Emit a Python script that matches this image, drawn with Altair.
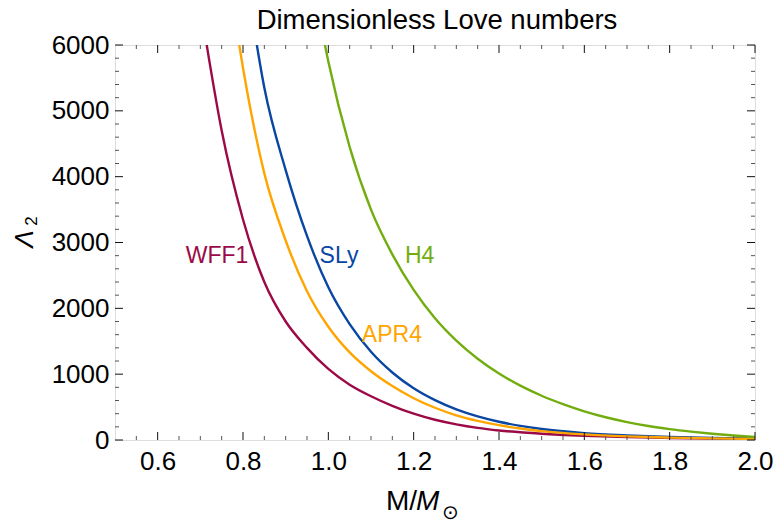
import altair as alt
import pandas as pd

# ---------------- data ----------------
wff1_m = [0.70, 0.72, 0.75, 0.80, 0.85, 0.90, 0.95, 1.00, 1.05, 1.10, 1.15, 1.20, 1.25, 1.30, 1.35, 1.40, 1.50, 1.60, 1.70, 1.80, 1.90, 2.00]
wff1_l = [6600, 5800, 4700, 3350, 2400, 1800, 1400, 1080, 840, 665, 520, 400, 308, 238, 184, 145, 95, 65, 45, 31, 22, 15]

sly_m = [0.82, 0.85, 0.90, 0.95, 1.00, 1.05, 1.10, 1.15, 1.20, 1.25, 1.30, 1.35, 1.40, 1.45, 1.50, 1.60, 1.70, 1.80, 1.90, 2.00]
sly_l = [6500, 5350, 4100, 3100, 2320, 1760, 1340, 1025, 785, 605, 465, 358, 277, 215, 167, 105, 70, 46, 30, 20]

apr4_m = [0.78, 0.80, 0.85, 0.90, 0.95, 1.00, 1.05, 1.10, 1.15, 1.20, 1.25, 1.30, 1.35, 1.40, 1.45, 1.50, 1.60, 1.70, 1.80, 1.90, 2.00]
apr4_l = [6450, 5650, 4050, 3030, 2260, 1720, 1330, 1045, 820, 635, 490, 375, 290, 225, 175, 135, 85, 55, 36, 24, 16]

h4_m = [0.98, 1.00, 1.05, 1.10, 1.15, 1.20, 1.25, 1.30, 1.35, 1.40, 1.45, 1.50, 1.55, 1.60, 1.65, 1.70, 1.75, 1.80, 1.85, 1.90, 1.95, 2.00]
h4_l = [6400, 5750, 4450, 3500, 2820, 2280, 1850, 1510, 1235, 1010, 825, 672, 545, 435, 345, 272, 212, 165, 127, 95, 68, 45]

eos_names = ["WFF1", "SLy", "APR4", "H4"]
eos_colors = ["#9b0a47", "#0a46a3", "#ffa500", "#72ad0f"]
label_m = [0.739, 1.025, 1.149, 1.214]
label_l = [2790, 2790, 1600, 2790]

x_major = [0.6, 0.8, 1.0, 1.2, 1.4, 1.6, 1.8, 2.0]
x_minor = [0.55, 0.65, 0.7, 0.75, 0.85, 0.9, 0.95, 1.05, 1.1, 1.15, 1.25, 1.3, 1.35, 1.45, 1.5, 1.55, 1.65, 1.7, 1.75, 1.85, 1.9, 1.95]
y_major = [0, 1000, 2000, 3000, 4000, 5000, 6000]
y_minor = [200, 400, 600, 800, 1200, 1400, 1600, 1800, 2200, 2400, 2600, 2800,
           3200, 3400, 3600, 3800, 4200, 4400, 4600, 4800, 5200, 5400, 5600, 5800]

title_text = "Dimensionless Love numbers"

# ---------------- build ----------------
W, H = 640, 395
FONT = "Liberation Sans"

rows = []
for name, ms, ls in [("WFF1", wff1_m, wff1_l), ("SLy", sly_m, sly_l),
                     ("APR4", apr4_m, apr4_l), ("H4", h4_m, h4_l)]:
    for m, l in zip(ms, ls):
        rows.append({"eos": name, "M": m, "L": l})
df = pd.DataFrame(rows)

xs = alt.Scale(domain=[0.5, 2.0], nice=False, zero=False)
ys = alt.Scale(domain=[0, 6000], nice=False)
cs = alt.Scale(domain=eos_names, range=eos_colors)

lines = alt.Chart(df).mark_line(strokeWidth=2.4, clip=True, interpolate="monotone").encode(
    x=alt.X("M:Q", scale=xs, axis=alt.Axis(
        values=x_major, format=".1f", ticks=False, domain=False, grid=False, labelFlush=False,
        labelFontSize=26, labelFont=FONT, labelColor="black", labelPadding=8, title=None)),
    y=alt.Y("L:Q", scale=ys, axis=alt.Axis(
        values=y_major, format="d", ticks=False, domain=False, grid=False, labelFlush=False,
        labelFontSize=26, labelFont=FONT, labelColor="black", labelPadding=6, title=None)),
    color=alt.Color("eos:N", scale=cs, legend=None),
    detail="eos:N",
)

lab_df = pd.DataFrame({"eos": eos_names, "M": label_m, "L": label_l})
labels = alt.Chart(lab_df).mark_text(fontSize=23, font=FONT, align="center", baseline="middle").encode(
    x=alt.X("M:Q", scale=xs), y=alt.Y("L:Q", scale=ys), text="eos:N",
    color=alt.Color("eos:N", scale=cs, legend=None),
)

def xticks(vals, length, color):
    d = pd.DataFrame({"M": vals})
    bot = alt.Chart(d).mark_rule(color=color, strokeWidth=1).encode(
        x=alt.X("M:Q", scale=xs), y=alt.value(H), y2=alt.value(H - length))
    top = alt.Chart(d).mark_rule(color=color, strokeWidth=1).encode(
        x=alt.X("M:Q", scale=xs), y=alt.value(0), y2=alt.value(length))
    return bot + top

def yticks(vals, length, color):
    d = pd.DataFrame({"L": vals})
    left = alt.Chart(d).mark_rule(color=color, strokeWidth=1).encode(
        y=alt.Y("L:Q", scale=ys), x=alt.value(0), x2=alt.value(length))
    right = alt.Chart(d).mark_rule(color=color, strokeWidth=1).encode(
        y=alt.Y("L:Q", scale=ys), x=alt.value(W), x2=alt.value(W - length))
    return left + right

one = pd.DataFrame({"k": [0]})
ttl = alt.Chart(one).mark_text(fontSize=27.5, font=FONT, align="center", baseline="alphabetic", color="black").encode(
    x=alt.value(W / 2 + 2), y=alt.value(-16), text=alt.value(title_text))
xt1 = alt.Chart(one).mark_text(fontSize=28, font=FONT, align="right", baseline="alphabetic", color="black").encode(
    x=alt.value(W / 2 - 18), y=alt.value(H + 70), text=alt.value("M/"))
xt2 = alt.Chart(one).mark_text(fontSize=28, font=FONT, fontStyle="italic", align="left", baseline="alphabetic", color="black").encode(
    x=alt.value(W / 2 - 19), y=alt.value(H + 70), text=alt.value("M"))
xt3 = alt.Chart(one).mark_text(fontSize=20, font=FONT, align="left", baseline="alphabetic", color="black").encode(
    x=alt.value(W / 2 + 7), y=alt.value(H + 79), text=alt.value("⊙"))
yt1 = alt.Chart(one).mark_text(fontSize=26, font=FONT, fontStyle="italic", angle=270, align="center", baseline="alphabetic", color="black").encode(
    x=alt.value(-82), y=alt.value(194), text=alt.value("Λ"))
yt2 = alt.Chart(one).mark_text(fontSize=17, font=FONT, angle=270, align="center", baseline="alphabetic", color="black").encode(
    x=alt.value(-78), y=alt.value(176), text=alt.value("2"))

chart = alt.layer(
    lines, labels,
    xticks(x_minor, 4, "#555555"), xticks(x_major, 8, "#111111"),
    yticks(y_minor, 4, "#555555"), yticks(y_major, 8, "#111111"),
    ttl, xt1, xt2, xt3, yt1, yt2,
).properties(
    width=W, height=H,
    autosize=alt.AutoSizeParams(type="none"),
    padding={"left": 115, "top": 45, "right": 24, "bottom": 85},
).configure_view(stroke="#888888", strokeWidth=1.2).configure(background="white")

chart.save("out.html", embed_options={"renderer": "svg", "actions": False})
